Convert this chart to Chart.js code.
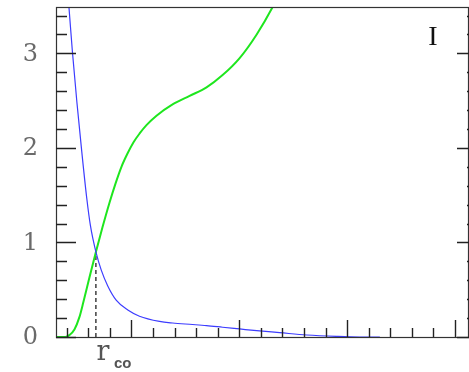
<!DOCTYPE html>
<html>
<head>
<meta charset="utf-8">
<script src="https://cdn.jsdelivr.net/npm/chart.js@4"></script>
<style>
html,body{margin:0;padding:0;background:#fff;}
#wrap{width:469px;height:372px;position:relative;}
</style>
</head>
<body>
<div id="wrap"><canvas id="c" width="469" height="372"></canvas></div>
<script>
// ---- data ----
const blueX = [0.412, 0.420, 0.452, 0.494, 0.539, 0.585, 0.619, 0.670, 0.719, 0.780, 0.858, 0.966, 1.074, 1.260, 1.381, 1.566, 1.696, 1.845, 2.003, 2.161, 2.374, 2.625, 2.903, 3.117, 3.303];
const blueY = [3.6, 3.49, 3.02, 2.48, 1.96, 1.47, 1.18, 0.90, 0.71, 0.54, 0.39, 0.285, 0.22, 0.165, 0.148, 0.132, 0.120, 0.103, 0.085, 0.067, 0.046, 0.021, 0.006, 0.0, 0.0];
const greenX = [0.294, 0.387, 0.424, 0.471, 0.517, 0.554, 0.610, 0.670, 0.731, 0.796, 0.851, 0.907, 0.963, 1.019, 1.074, 1.139, 1.232, 1.381, 1.539, 1.696, 1.845, 2.003, 2.161, 2.309, 2.356];
const greenY = [0.0, 0.0, 0.02, 0.08, 0.21, 0.37, 0.63, 0.90, 1.16, 1.42, 1.62, 1.80, 1.94, 2.06, 2.15, 2.24, 2.34, 2.46, 2.55, 2.64, 2.77, 2.95, 3.20, 3.49, 3.6];
const rcoX = 0.670;
const rcoY = 0.90;
const yTickLabels = ['0', '1', '2', '3'];
const yTickValues = [0, 1, 2, 3];
const xMajor = [1, 2, 3, 4];
const xMinorStep = 0.2;
const yMinorStep = 0.2;
const xMin = 0.3, xMax = 4.13, yMin = 0, yMax = 3.49;
const panelLabel = 'I';

const toPts = (xs, ys) => xs.map((x, i) => ({x: x, y: ys[i]}));

const decor = {
  id: 'decor',
  afterDraw(chart) {
    const ctx = chart.ctx;
    const xs = chart.scales.x, ys = chart.scales.y;
    const a = chart.chartArea;
    ctx.save();
    // frame
    ctx.strokeStyle = '#333';
    ctx.lineWidth = 1.2;
    ctx.strokeRect(a.left + 0.5, a.top + 0.5, a.right - a.left - 1, a.bottom - a.top);
    ctx.lineWidth = 1.4;
    ctx.strokeStyle = '#222';
    // y ticks
    for (let v = 0; v <= yMax + 1e-9; v += yMinorStep) {
      const vv = Math.round(v * 10) / 10;
      const py = Math.round(ys.getPixelForValue(vv)) + 0.5;
      const major = Math.abs(vv - Math.round(vv)) < 1e-6;
      ctx.beginPath();
      ctx.moveTo(a.left, py);
      ctx.lineTo(a.left + (major ? 20 : 11), py);
      ctx.moveTo(a.right, py);
      ctx.lineTo(a.right - (major ? 12 : 2), py);
      ctx.stroke();
    }
    // x ticks
    for (let v = 0.4; v <= xMax + 1e-9; v += xMinorStep) {
      const vv = Math.round(v * 10) / 10;
      const px = Math.round(xs.getPixelForValue(vv)) + 0.5;
      const major = xMajor.some(m => Math.abs(m - vv) < 1e-6);
      ctx.beginPath();
      ctx.moveTo(px, a.bottom);
      ctx.lineTo(px, a.bottom - (major ? 17 : 9));
      ctx.stroke();
    }
    // y tick labels
    ctx.fillStyle = '#6a6a6a';
    ctx.font = '24px "DejaVu Serif"';
    ctx.textAlign = 'right';
    ctx.textBaseline = 'middle';
    yTickValues.forEach((v, i) => {
      ctx.fillText(yTickLabels[i], 38, ys.getPixelForValue(v) + 1);
    });
    // r_co label
    const rx = xs.getPixelForValue(rcoX);
    ctx.textAlign = 'left';
    ctx.textBaseline = 'alphabetic';
    ctx.fillStyle = '#555';
    ctx.font = '27px "DejaVu Serif"';
    ctx.fillText('r', rx + 0.5, 360);
    ctx.font = 'bold 15px "Liberation Sans"';
    ctx.fillText('co', rx + 18, 368);
    // panel label
    ctx.fillStyle = '#111';
    ctx.font = '28px "Liberation Serif"';
    ctx.textAlign = 'center';
    ctx.fillText(panelLabel, 433, 45);
    ctx.restore();
  }
};

new Chart(document.getElementById('c'), {
  type: 'scatter',
  data: {
    datasets: [
      {
        data: toPts(blueX, blueY),
        showLine: true,
        borderColor: 'rgb(60,60,255)',
        borderWidth: 1.2,
        pointRadius: 0,
        cubicInterpolationMode: 'monotone'
      },
      {
        data: toPts(greenX, greenY),
        showLine: true,
        borderColor: 'rgb(30,230,30)',
        borderWidth: 2,
        pointRadius: 0,
        cubicInterpolationMode: 'monotone'
      },
      {
        data: [{x: rcoX, y: 0}, {x: rcoX, y: rcoY}],
        showLine: true,
        borderColor: '#222',
        borderWidth: 1.3,
        borderDash: [4, 3],
        pointRadius: 0
      }
    ]
  },
  options: {
    responsive: false,
    animation: false,
    devicePixelRatio: 1,
    layout: {padding: {top: 7, right: 0, left: 0, bottom: 0}},
    plugins: {legend: {display: false}, tooltip: {enabled: false}},
    scales: {
      x: {
        type: 'linear', min: xMin, max: xMax,
        grid: {display: false}, border: {display: false},
        ticks: {display: false},
        afterFit(s) { s.height = 35; }
      },
      y: {
        type: 'linear', min: yMin, max: yMax,
        grid: {display: false}, border: {display: false},
        ticks: {display: false},
        afterFit(s) { s.width = 56; }
      }
    }
  },
  plugins: [decor]
});
</script>
</body>
</html>
